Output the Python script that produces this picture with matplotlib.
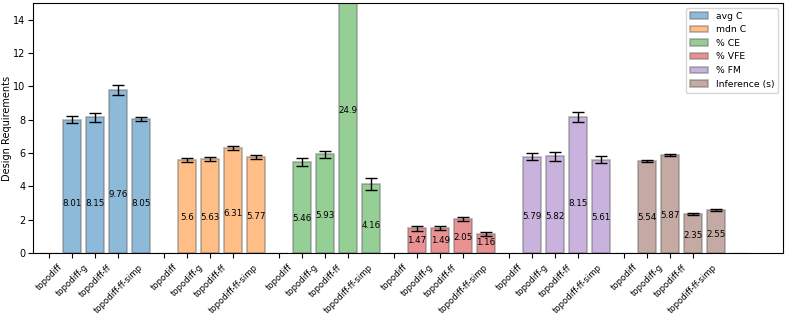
import numpy as np
import matplotlib.pyplot as plt

models = ["topodiff", "topodiff-g", "topodiff-ff", "topodiff-ff-simp"]
metrics = ["avg C", "mdn C", "% CE", "% VFE", "% FM", "Inference (s)"]

avg_c = [8.01, 8.15, 9.76, 8.05]
avg_c_err = [0.2, 0.26, 0.3, 0.1]
mdn_c = [5.6, 5.63, 6.31, 5.77]
mdn_c_err = [0.12, 0.12, 0.11, 0.12]
ce = [5.46, 5.93, 24.9, 4.16]
ce_err = [0.24, 0.21, 0.6, 0.36]
vfe = [1.47, 1.49, 2.05, 1.16]
vfe_err = [0.13, 0.14, 0.13, 0.12]
fm = [5.79, 5.82, 8.15, 5.61]
fm_err = [0.21, 0.27, 0.3, 0.23]
inference = [5.54, 5.87, 2.35, 2.55]
inference_err = [0.06, 0.05, 0.06, 0.06]

values = [avg_c, mdn_c, ce, vfe, fm, inference]
errors = [avg_c_err, mdn_c_err, ce_err, vfe_err, fm_err, inference_err]
colors = ["tab:blue", "tab:orange", "tab:green", "tab:red", "tab:purple", "tab:brown"]

fig, ax = plt.subplots(figsize=(7.89, 3.15), dpi=100)
fig.subplots_adjust(left=0.042, right=0.992, bottom=0.197, top=0.99)

slot = len(models) + 1
ticks, ticklabels = [], []
for g, (vals, errs, col, name) in enumerate(zip(values, errors, colors, metrics)):
    base = g * slot
    # empty slot in front of each group (zero-height bar)
    ax.bar(base, 0, width=0.8, color=col, alpha=0.5, edgecolor="dimgray")
    x = base + 1 + np.arange(len(vals))
    ax.bar(x, vals, width=0.8, yerr=errs, capsize=4, color=col, alpha=0.5,
           edgecolor="dimgray", linewidth=1.2, label=name,
           error_kw=dict(ecolor="black", elinewidth=1, capthick=1))
    for xi, v in zip(x, vals):
        ax.text(xi, v / 3, f"{v:g}", ha="center", va="bottom", fontsize=6.3)
    ticks += list(base + np.arange(len(models)))
    ticklabels += models
ax.bar(len(values) * slot, 0, width=0.8, color="gray", alpha=0.5, edgecolor="dimgray")

ax.set_xticks(ticks)
ax.set_xticklabels(ticklabels, rotation=45, fontsize=6.1)
ax.tick_params(axis="y", labelsize=7, pad=2)
ax.set_ylabel("Design Requirements", fontsize=7, labelpad=1)
ax.set_ylim(0, 15)
ax.set_xlim(-0.7, 31.9)
ax.legend(loc="upper right", fontsize=6.7)

plt.savefig("out.png", dpi=100)
